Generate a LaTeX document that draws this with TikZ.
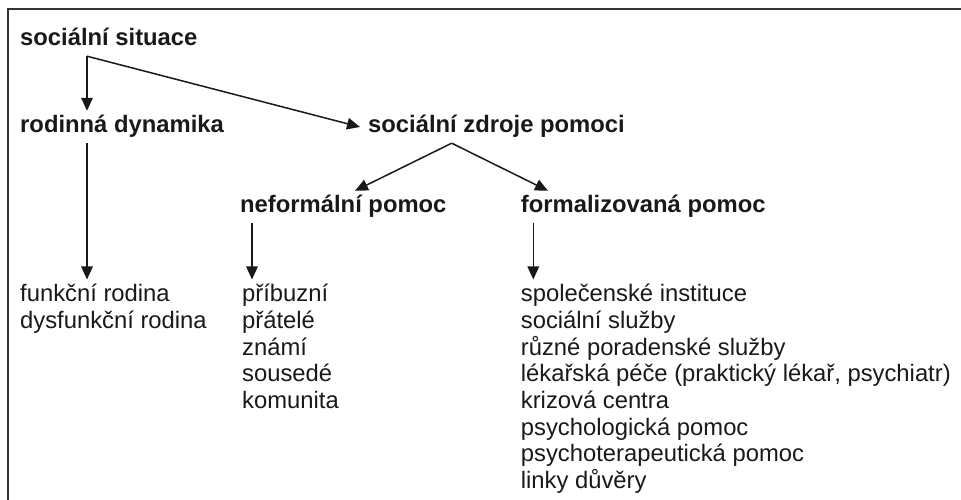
\documentclass[tikz,border=0pt]{standalone}
\usepackage{fontspec}
\setmainfont{Liberation Sans}
\usetikzlibrary{arrows.meta,calc}

\tikzset{
    head/.style={anchor=base west, font=\bfseries\fontsize{23.8}{26.7}\selectfont, text=black!90,
        text height=17pt, text depth=5pt, inner xsep=0pt, inner ysep=5pt},
    item/.style={anchor=base west, font=\fontsize{23.8}{26.7}\selectfont, text=black!90,
        text height=17pt, text depth=5pt, inner xsep=0pt, inner ysep=5pt},
    conn/.style={line width=1.5pt, black!90, -{Triangle[length=13pt,width=11.5pt]}}
}

\begin{document}
\begin{tikzpicture}[x=1pt, y=1pt]
    \useasboundingbox (0,0) rectangle (961,500);
    \draw[line width=1.6pt, black!80] (8,0) -- (8,491) -- (961,491);

    \node[head] (sit) at (20,454) {sociální situace};
    \node[head] (rod) at (20,367) {rodinná dynamika};
    \node[head] (zdr) at (368,367) {sociální zdroje pomoci};
    \node[head] (nef) at (240,287) {neformální pomoc};
    \node[head] (form) at (520.7,287) {formalizovaná pomoc};

    \foreach \t [count=\i] in {funkční rodina, dysfunkční rodina}
        \node[item] (fam\i) at (20,{225-26.7*\i}) {\t};
    \foreach \t [count=\i] in {příbuzní, přátelé, známí, sousedé, komunita}
        \node[item] (inf\i) at (242,{225-26.7*\i}) {\t};
    \foreach \t [count=\i] in {společenské instituce, sociální služby, různé poradenské služby,
        {lékařská péče (praktický lékař, psychiatr)}, krizová centra, psychologická pomoc,
        psychoterapeutická pomoc, linky důvěry}
        \node[item] (frm\i) at (520.7,{225-26.7*\i}) {\t};

    \coordinate (sitfork) at ([xshift=67pt]sit.south west);
    \draw[conn] (sitfork) -- (sitfork |- rod.north);
    \draw[conn] (sitfork) -- ([xshift=-8pt]zdr.west);
    \draw[conn] (sitfork |- rod.south) -- (sitfork |- fam1.north);

    \coordinate (zdrfork) at ([xshift=83.7pt]zdr.south west);
    \draw[conn] (zdrfork) -- ([xshift=115pt]nef.north west);
    \draw[conn] (zdrfork) -- ([xshift=27.3pt]form.north west);

    \coordinate (nefdown) at ([xshift=12pt]nef.south west);
    \coordinate (formdown) at ([xshift=12.6pt]form.south west);
    \draw[conn] (nefdown) -- (nefdown |- inf1.north);
    \draw[conn] (formdown) -- (formdown |- frm1.north);
\end{tikzpicture}
\end{document}
